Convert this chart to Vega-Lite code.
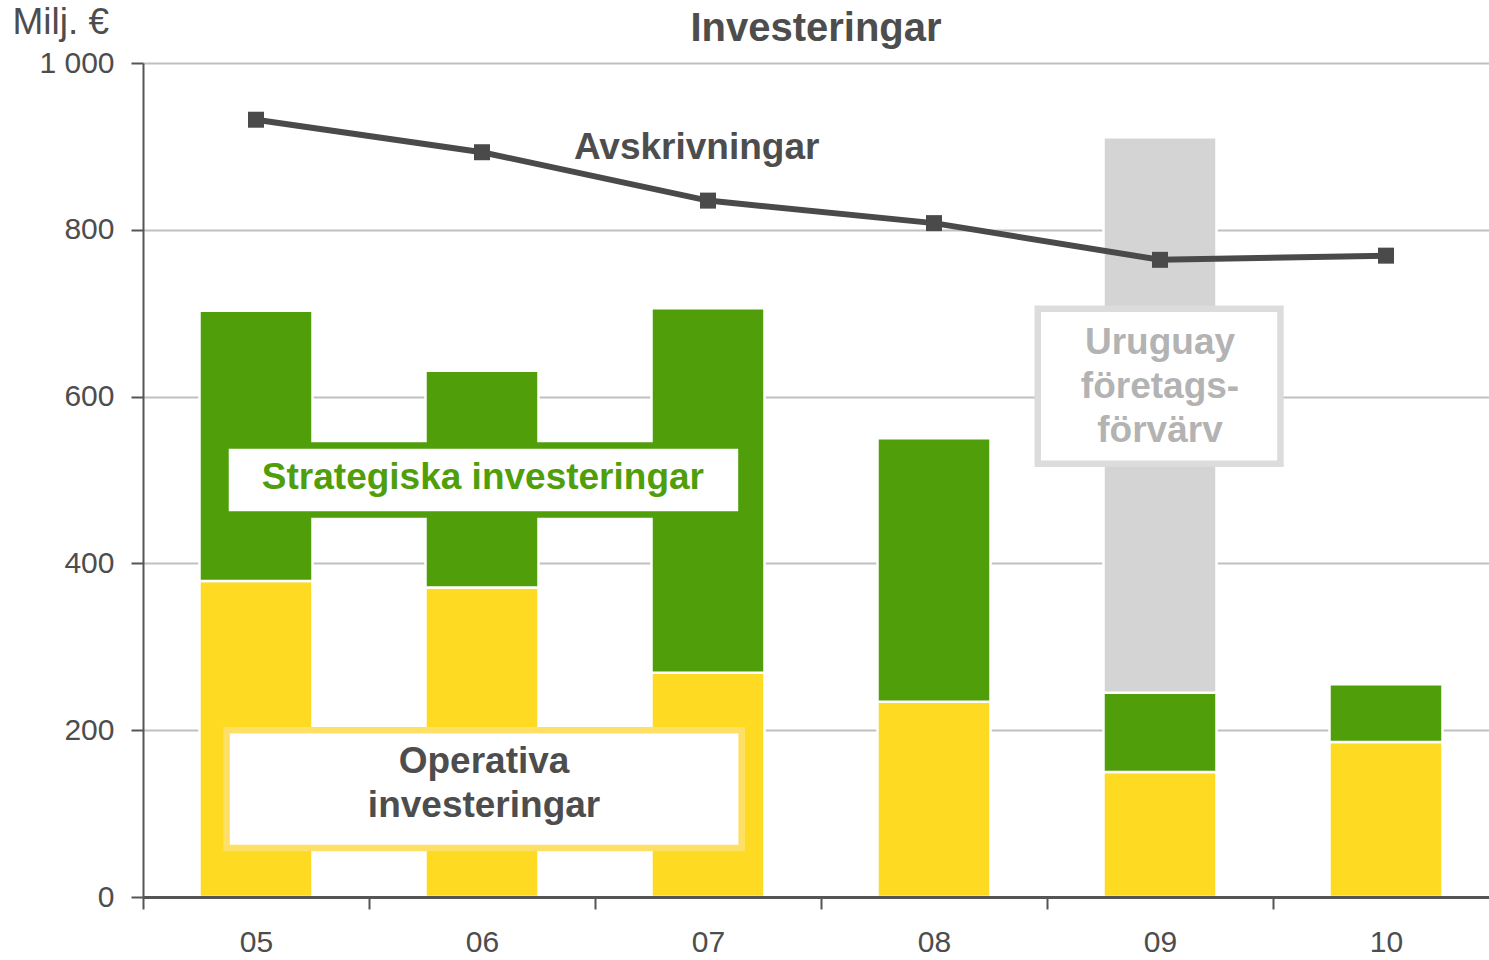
{
  "$schema": "https://vega.github.io/schema/vega-lite/v6.json",
  "width": 1346,
  "height": 834,
  "autosize": {"type": "none"},
  "padding": {"left": 143, "top": 63, "right": 0, "bottom": 63},
  "background": "white",
  "title": {
    "text": "Investeringar",
    "anchor": "middle",
    "fontSize": 40,
    "fontWeight": "bold",
    "font": "Liberation Sans",
    "color": "#4D4D4D",
    "dy": 50
  },
  "config": {
    "font": "Liberation Sans",
    "view": {"stroke": null}
  },
  "resolve": {"scale": {"x": "independent", "color": "independent"}},
  "layer": [
    {
      "layer": [
        {
          "data": {
            "values": [
              {"year": "05", "type": "Operativa", "value": 379, "ord": 1},
              {"year": "05", "type": "Strategiska", "value": 324, "ord": 2},
              {"year": "06", "type": "Operativa", "value": 371, "ord": 1},
              {"year": "06", "type": "Strategiska", "value": 260, "ord": 2},
              {"year": "07", "type": "Operativa", "value": 269, "ord": 1},
              {"year": "07", "type": "Strategiska", "value": 437, "ord": 2},
              {"year": "08", "type": "Operativa", "value": 234, "ord": 1},
              {"year": "08", "type": "Strategiska", "value": 316, "ord": 2},
              {"year": "09", "type": "Operativa", "value": 150, "ord": 1},
              {"year": "09", "type": "Strategiska", "value": 95, "ord": 2},
              {"year": "09", "type": "Uruguay", "value": 666, "ord": 3},
              {"year": "10", "type": "Operativa", "value": 186, "ord": 1},
              {"year": "10", "type": "Strategiska", "value": 69, "ord": 2}
            ]
          },
          "mark": {"type": "bar", "width": {"band": 0.5}, "stroke": "white", "strokeWidth": 2.5},
          "encoding": {
            "x": {
              "field": "year",
              "type": "nominal",
              "scale": {"domain": ["05", "06", "07", "08", "09", "10"], "paddingInner": 0, "paddingOuter": 0, "range": [0, 1356]},
              "axis": {
                "title": null,
                "labelAngle": 0,
                "labelFontSize": 30,
                "labelColor": "#4D4D4D",
                "labelPadding": 18,
                "tickBand": "extent",
                "tickSize": 12,
                "tickWidth": 2,
                "tickColor": "#555555",
                "domainColor": "#555555",
                "domainWidth": 3,
                "zindex": 1
              }
            },
            "y": {
              "field": "value",
              "type": "quantitative",
              "stack": "zero",
              "scale": {"domain": [0, 1000], "nice": false},
              "axis": {
                "title": "Milj. €",
                "titleAngle": 0,
                "titleAlign": "left",
                "titleBaseline": "middle",
                "titleX": -131,
                "titleY": -41,
                "titleFontSize": 37,
                "titleFontWeight": "normal",
                "titleColor": "#4D4D4D",
                "values": [0, 200, 400, 600, 800, 1000],
                "labelExpr": "replace(format(datum.value, ','), ',', ' ')",
                "labelFontSize": 30,
                "labelColor": "#4D4D4D",
                "labelPadding": 17,
                "tickSize": 12,
                "tickWidth": 2,
                "tickColor": "#555555",
                "domainColor": "#555555",
                "domainWidth": 2,
                "gridColor": "#C0C0C0",
                "gridWidth": 2
              }
            },
            "color": {
              "field": "type",
              "type": "nominal",
              "scale": {"domain": ["Operativa", "Strategiska", "Uruguay"], "range": ["#FFDA22", "#4F9E0A", "#D4D4D4"]},
              "legend": null
            },
            "order": {"field": "ord", "type": "quantitative"}
          }
        },
        {
          "data": {
            "values": [
              {"year": "05", "value": 932},
              {"year": "06", "value": 893},
              {"year": "07", "value": 835},
              {"year": "08", "value": 808},
              {"year": "09", "value": 764},
              {"year": "10", "value": 769}
            ]
          },
          "layer": [
            {
              "mark": {"type": "line", "color": "#4A4A4A", "strokeWidth": 6},
              "encoding": {
                "x": {"field": "year", "type": "nominal"},
                "y": {"field": "value", "type": "quantitative"}
              }
            },
            {
              "mark": {"type": "point", "shape": "square", "filled": true, "size": 256, "color": "#4A4A4A", "opacity": 1},
              "encoding": {
                "x": {"field": "year", "type": "nominal"},
                "y": {"field": "value", "type": "quantitative"}
              }
            }
          ]
        }
      ]
    },
    {
      "layer": [
        {
          "data": {
            "values": [
              {"name": "Strategiska", "x0": 0.365, "x1": 2.648, "y0": 458.6, "y1": 541.4},
              {"name": "Operativa", "x0": 0.370, "x1": 2.649, "y0": 58.8, "y1": 200},
              {"name": "Uruguay", "x0": 3.959, "x1": 5.033, "y0": 519.4, "y1": 705.4}
            ]
          },
          "mark": {"type": "rect", "fill": "white", "strokeWidth": 6.5},
          "encoding": {
            "x": {"field": "x0", "type": "quantitative", "scale": {"domain": [0, 6], "range": [0, 1356]}, "axis": null},
            "x2": {"field": "x1"},
            "y": {"field": "y0", "type": "quantitative"},
            "y2": {"field": "y1"},
            "stroke": {
              "field": "name",
              "type": "nominal",
              "scale": {"domain": ["Strategiska", "Operativa", "Uruguay"], "range": ["#4F9E0A", "#FFE066", "#DCDCDC"]},
              "legend": null
            }
          }
        },
        {
          "data": {
            "values": [
              {"label": "Avskrivningar", "px": 2.45, "py": 898},
              {"label": "Strategiska investeringar", "px": 1.504, "py": 502},
              {"label": "Operativa\ninvesteringar", "px": 1.509, "py": 162},
              {"label": "Uruguay\nföretags-\nförvärv", "px": 4.5, "py": 664}
            ]
          },
          "mark": {"type": "text", "fontSize": 37, "fontWeight": "bold", "align": "center", "baseline": "middle", "lineBreak": "\n", "lineHeight": 44},
          "encoding": {
            "x": {"field": "px", "type": "quantitative", "scale": {"domain": [0, 6], "range": [0, 1356]}, "axis": null},
            "y": {"field": "py", "type": "quantitative"},
            "text": {"field": "label"},
            "color": {
              "field": "label",
              "type": "nominal",
              "scale": {
                "domain": ["Avskrivningar", "Strategiska investeringar", "Operativa\ninvesteringar", "Uruguay\nföretags-\nförvärv"],
                "range": ["#4D4D4D", "#4F9E0A", "#4D4D4D", "#B3B3B3"]
              },
              "legend": null
            }
          }
        }
      ]
    }
  ]
}
